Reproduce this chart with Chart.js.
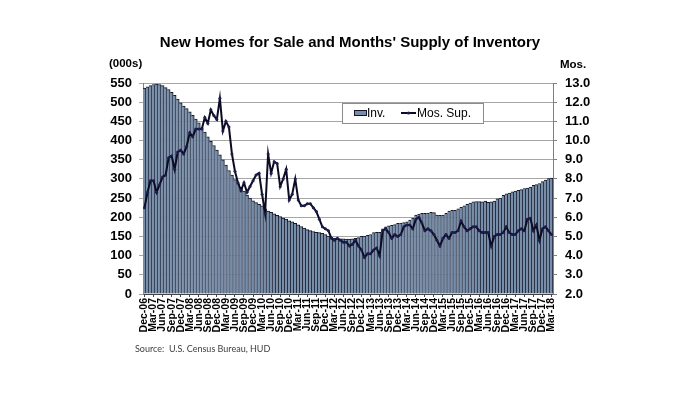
<!DOCTYPE html>
<html>
<head>
<meta charset="utf-8">
<script src="https://cdn.jsdelivr.net/npm/chart.js@4.4.0/dist/chart.umd.min.js"></script>
<style>
  html, body { margin: 0; padding: 0; background: #fff; }
  #wrap { position: relative; width: 700px; height: 394px; }
</style>
</head>
<body>
<div id="wrap"><canvas id="homesChart"></canvas></div>
<script>
// Month labels, Dec-06 through Mar-18
const monthNames = ['Jan', 'Feb', 'Mar', 'Apr', 'May', 'Jun', 'Jul', 'Aug', 'Sep', 'Oct', 'Nov', 'Dec'];
const startYear = 2006, startMonth = 11, monthCount = 136;
const categories = [];
for (let i = 0; i < monthCount; i++) {
  const m = (startMonth + i) % 12;
  const y = startYear + Math.floor((startMonth + i) / 12);
  categories.push(monthNames[m] + '-' + String(y % 100).padStart(2, '0'));
}

// New homes for sale (000s)
const inventory = [
  537,
  540, 543, 546, 547, 546, 543, 538, 533, 526, 518, 508, 498,
  490, 483, 475, 466, 456, 446, 434, 422, 410, 398, 387, 375,
  363, 350, 336, 322, 310, 298, 288, 278, 268, 258, 250, 243,
  238, 234, 230, 222, 216, 213, 209, 205, 202, 198, 195, 191,
  188, 184, 180, 176, 172, 168, 165, 163, 161, 160, 158, 155,
  151, 148, 146, 145, 144, 144, 143, 143, 144, 145, 147, 150,
  151, 153, 155, 160, 161, 161, 170, 175, 178, 179, 181, 184,
  185, 186, 188, 193, 198, 206, 208, 210, 210, 211, 213, 212,
  206, 205, 206, 210, 216, 218, 218, 222, 226, 230, 234, 237,
  240, 241, 241, 240, 242, 239, 240, 242, 248, 250, 257, 261,
  263, 266, 268, 270, 272, 275, 276, 279, 283, 285, 288, 293,
  297, 301, 302
];

// Months' supply
const monthsSupply = [
  6.5,
  7.3, 7.9, 7.9, 7.3, 7.7, 8.1, 8.2, 9.1, 9.2, 8.5, 9.4, 9.5,
  9.3, 9.7, 10.4, 10.2, 10.6, 10.6, 10.6, 11.2, 10.9, 11.6, 11.3, 11.1,
  12.2, 10.5, 11.0, 10.7, 9.3, 8.4, 7.8, 7.4, 7.8, 7.3, 7.6, 7.9,
  8.2, 8.3, 7.2, 6.2, 9.3, 8.3, 8.9, 8.8, 7.6, 8.0, 8.5, 6.9,
  7.2, 8.0, 6.9, 6.6, 6.6, 6.7, 6.7, 6.5, 6.3, 5.9, 5.5, 5.4,
  5.3, 4.9, 4.8, 4.9, 4.8, 4.7, 4.7, 4.5, 4.6, 4.8, 4.5, 4.3,
  3.9, 4.1, 4.1, 4.3, 4.4, 4.0, 5.3, 5.4, 5.2, 4.9, 5.1, 5.0,
  5.1, 5.5, 5.6, 5.6, 5.4, 5.9, 6.0, 5.7, 5.3, 5.4, 5.3, 5.1,
  4.8, 4.5, 4.9, 5.1, 4.9, 5.2, 5.2, 5.3, 5.8, 5.5, 5.3, 5.4,
  5.5, 5.5, 5.3, 5.2, 5.2, 5.2, 4.5, 5.0, 5.1, 5.1, 5.2, 5.5,
  5.2, 5.1, 5.1, 5.3, 5.4, 5.3, 5.9, 5.95, 5.3, 5.6, 4.8, 5.4,
  5.5, 5.3, 5.1
];

const barFill = '#788da8';
const barEdge = '#121626';
const lineColor = '#0b0b22';
const fontFamily = '"Liberation Sans", Arial, sans-serif';

// unit labels, legend box and source note
const extrasPlugin = {
  id: 'extras',
  afterDraw(chart) {
    const c = chart.ctx;
    c.save();
    c.fillStyle = '#000';
    c.textBaseline = 'middle';
    c.textAlign = 'left';
    c.font = 'bold 11.5px ' + fontFamily;
    c.fillText('(000s)', 109, 64);
    c.fillText('Mos.', 560, 65);

    // legend
    c.fillStyle = '#fff';
    c.fillRect(342.5, 103.5, 141, 20);
    c.strokeStyle = '#8c8c8c';
    c.lineWidth = 1;
    c.strokeRect(342.5, 103.5, 141, 20);
    c.fillStyle = barFill;
    c.fillRect(354.5, 110.5, 12, 5);
    c.strokeStyle = barEdge;
    c.strokeRect(354.5, 110.5, 12, 5);
    c.fillStyle = '#000';
    c.font = '12px ' + fontFamily;
    c.fillText('Inv.', 367, 113.5);
    c.strokeStyle = lineColor;
    c.lineWidth = 2;
    c.beginPath();
    c.moveTo(401, 113);
    c.lineTo(416, 113);
    c.stroke();
    c.fillStyle = '#1c1c50';
    c.beginPath();
    c.arc(408.5, 113, 1.6, 0, Math.PI * 2);
    c.fill();
    c.fillStyle = '#000';
    c.fillText('Mos. Sup.', 417, 113.5);

    // source
    c.font = '9px Lato, sans-serif';
    c.fillStyle = '#404040';
    c.fillText('Source:  U.S. Census Bureau, HUD', 135, 349);
    c.restore();
  }
};

const ctx = document.getElementById('homesChart').getContext('2d');
const chart = new Chart(ctx, {
  type: 'bar',
  data: {
    labels: categories,
    datasets: [
      {
        type: 'line',
        label: 'Mos. Sup.',
        data: monthsSupply,
        yAxisID: 'y1',
        order: 0,
        borderColor: lineColor,
        borderWidth: 2,
        tension: 0,
        pointRadius: 1.5,
        pointBorderWidth: 0,
        pointBackgroundColor: '#1c1c50'
      },
      {
        type: 'bar',
        label: 'Inv.',
        data: inventory,
        yAxisID: 'y',
        order: 1,
        backgroundColor: barFill,
        borderColor: barEdge,
        borderWidth: { top: 1, right: 1, left: 0, bottom: 0 },
        barPercentage: 1,
        categoryPercentage: 1
      }
    ]
  },
  options: {
    responsive: true,
    maintainAspectRatio: false,
    animation: false,
    layout: { padding: 0 },
    plugins: {
      legend: { display: false },
      tooltip: { enabled: false },
      title: {
        display: true,
        text: "New Homes for Sale and Months' Supply of Inventory",
        color: '#000',
        font: { family: fontFamily, size: 15, weight: 'bold' },
        padding: { top: 34, bottom: 31 }
      }
    },
    scales: {
      x: {
        grid: {
          display: true,
          drawOnChartArea: false,
          offset: false,
          tickLength: 3,
          tickColor: (c) => (c.index % 3 === 0 ? '#444' : 'rgba(0,0,0,0)')
        },
        border: { color: '#444' },
        ticks: {
          autoSkip: false,
          maxRotation: 90,
          minRotation: 90,
          padding: 1,
          color: '#000',
          font: { family: fontFamily, size: 10.5, weight: 'bold' },
          callback: function(value, index) {
            return index % 3 === 0 ? this.getLabelForValue(value) : '';
          }
        },
        afterFit: (s) => { s.height = 100; }
      },
      y: {
        position: 'left',
        min: 0,
        max: 550,
        ticks: {
          stepSize: 50,
          padding: 7,
          color: '#000',
          font: { family: fontFamily, size: 13, weight: 'bold' }
        },
        grid: { color: '#a6a6a6', tickLength: 4 },
        border: { color: '#808080' },
        afterFit: (s) => { s.width = 143; }
      },
      y1: {
        position: 'right',
        min: 2,
        max: 13,
        ticks: {
          stepSize: 1,
          padding: 8,
          color: '#000',
          font: { family: fontFamily, size: 13, weight: 'bold' },
          callback: (v) => v.toFixed(1)
        },
        grid: { drawOnChartArea: false, tickLength: 4, color: '#808080' },
        border: { color: '#808080' },
        afterFit: (s) => { s.width = 147; }
      }
    }
  },
  plugins: [extrasPlugin]
});
</script>
</body>
</html>
